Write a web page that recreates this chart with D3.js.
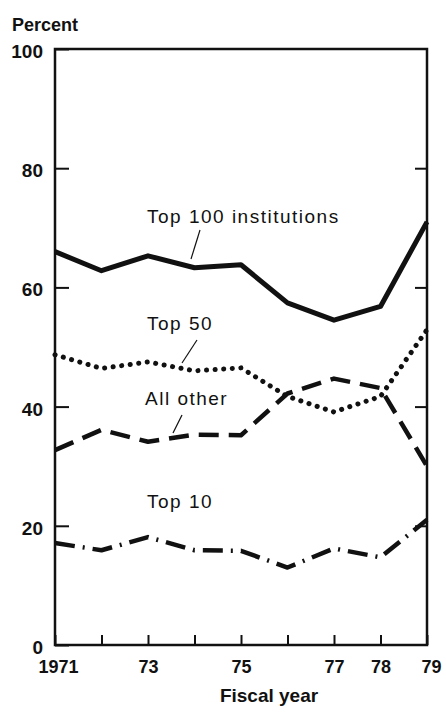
<!DOCTYPE html>
<html>
<head>
<meta charset="utf-8">
<script src="https://cdn.jsdelivr.net/npm/d3@7"></script>
<style>
  body { margin: 0; background: #fff; }
  text { font-family: "Liberation Sans", Arial, sans-serif; fill: #111; }
</style>
</head>
<body>
<svg id="chart" width="446" height="718"></svg>
<script>
// fiscal years 1971-1979
const years = [1971, 1972, 1973, 1974, 1975, 1976, 1977, 1978, 1979];
const top100 = [66.0, 62.8, 65.3, 63.3, 63.8, 57.4, 54.5, 56.8, 71.0];
const top50 = [48.7, 46.4, 47.5, 46.0, 46.5, 41.7, 39.1, 41.7, 52.9];
const allOther = [32.7, 36.1, 34.1, 35.3, 35.2, 42.2, 44.7, 43.1, 30.0];
const top10 = [17.1, 15.9, 18.1, 15.9, 15.8, 13.0, 16.2, 14.7, 21.0];
const yTicks = [0, 20, 40, 60, 80, 100];
const xTickLabels = { 1971: '1971', 1973: '73', 1975: '75', 1977: '77', 1978: '78', 1979: '79' };

const svg = d3.select('#chart');
const margin = { top: 49, right: 19, bottom: 73, left: 55 };
const width = 446 - margin.left - margin.right;
const height = 718 - margin.top - margin.bottom;

const x = d3.scaleLinear().domain([1971, 1979]).range([0, width]);
const y = d3.scaleLinear().domain([0, 100]).range([height, 0]);

const g = svg.append('g').attr('transform', `translate(${margin.left},${margin.top})`);

// frame
g.append('rect')
  .attr('width', width)
  .attr('height', height)
  .attr('fill', 'none')
  .attr('stroke', '#111')
  .attr('stroke-width', 2.5);

// y ticks inside, both sides
const yAxisL = d3.axisLeft(y).tickValues(yTicks).tickSize(-14);
g.append('g').call(yAxisL)
  .call((a) => a.select('.domain').remove())
  .call((a) => a.selectAll('line').attr('stroke', '#111').attr('stroke-width', 2))
  .call((a) => a.selectAll('text')
    .attr('font-size', 19).attr('font-weight', 'bold')
    .attr('x', -12).attr('dy', '0.45em'));

const yAxisR = d3.axisRight(y).tickValues(yTicks.filter((d) => d > 0 && d < 100)).tickSize(-12).tickFormat('');
g.append('g').attr('transform', `translate(${width},0)`).call(yAxisR)
  .call((a) => a.select('.domain').remove())
  .call((a) => a.selectAll('line').attr('stroke', '#111').attr('stroke-width', 2));

// x ticks upward
const xAxis = d3.axisBottom(x).tickValues(years).tickSize(-10)
  .tickFormat((d) => xTickLabels[d] || '');
g.append('g').attr('transform', `translate(0,${height})`).call(xAxis)
  .call((a) => a.select('.domain').remove())
  .call((a) => a.selectAll('line').attr('stroke', '#111').attr('stroke-width', 2))
  .call((a) => a.selectAll('text')
    .attr('font-size', 18).attr('font-weight', 'bold')
    .attr('y', 15));

// fix edge labels
g.selectAll('.tick text').filter((d) => d === 1971).attr('dx', 3);
g.selectAll('.tick text').filter((d) => d === 1979).attr('dx', 4);

const line = d3.line()
  .x((d, i) => x(years[i]))
  .y((d) => y(d));

const series = [
  { values: top100, dash: null, width: 5, cap: 'butt' },
  { values: top50, dash: '0.1 8.5', width: 5, cap: 'round' },
  { values: allOther, dash: '20 10', width: 4.5, cap: 'butt' },
  { values: top10, dash: '20 8 2 8', width: 4.5, cap: 'butt' }
];

series.forEach((s) => {
  g.append('path')
    .datum(s.values)
    .attr('fill', 'none')
    .attr('stroke', '#111')
    .attr('stroke-width', s.width)
    .attr('stroke-linecap', s.cap)
    .attr('stroke-linejoin', 'round')
    .attr('stroke-dasharray', s.dash)
    .attr('d', line);
});

// series labels with leaders
const labels = [
  { text: 'Top 100 institutions', x: 147, y: 223, leader: [[200, 230], [191, 259]] },
  { text: 'Top 50', x: 147, y: 330, leader: [[197, 340], [182, 363]] },
  { text: 'All other', x: 145, y: 405, leader: [[182, 415], [173, 433]] },
  { text: 'Top 10', x: 147, y: 508, leader: null }
];

labels.forEach((l) => {
  svg.append('text')
    .attr('x', l.x)
    .attr('y', l.y)
    .attr('font-size', 19)
    .attr('letter-spacing', 1.5)
    .text(l.text);
  if (l.leader) {
    svg.append('line')
      .attr('x1', l.leader[0][0]).attr('y1', l.leader[0][1])
      .attr('x2', l.leader[1][0]).attr('y2', l.leader[1][1])
      .attr('stroke', '#111')
      .attr('stroke-width', 1.2);
  }
});

svg.append('text')
  .attr('x', 12)
  .attr('y', 31)
  .attr('font-size', 18)
  .attr('font-weight', 'bold')
  .text('Percent');

svg.append('text')
  .attr('x', 269)
  .attr('y', 702)
  .attr('text-anchor', 'middle')
  .attr('font-size', 19)
  .attr('font-weight', 'bold')
  .text('Fiscal year');
</script>
</body>
</html>
